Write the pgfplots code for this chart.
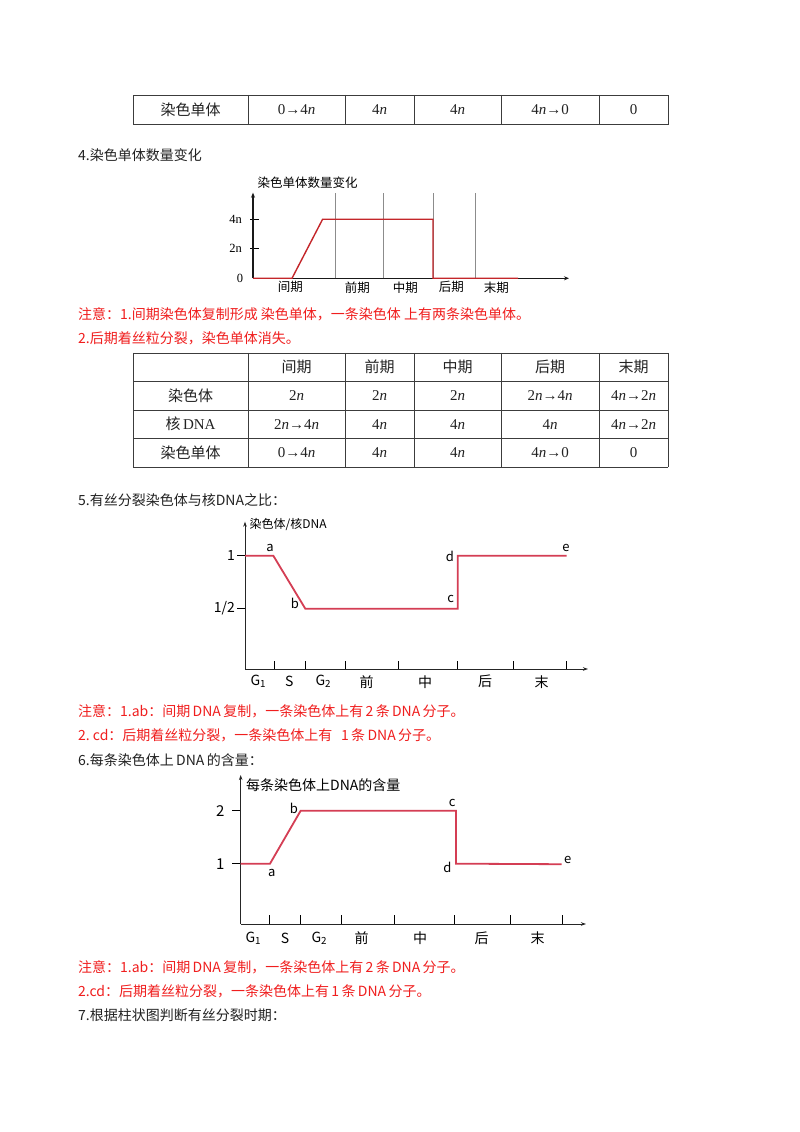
\documentclass[border=0pt]{standalone}
\usepackage{fontspec}
\setmainfont{Liberation Serif}
\newfontfamily\cjk{Noto Sans CJK SC}
\usepackage{pgfplots}
\pgfplotsset{compat=1.18}
\usetikzlibrary{arrows.meta}
\definecolor{redA}{RGB}{196,38,42}
\definecolor{redB}{RGB}{212,62,84}
\definecolor{noteRed}{RGB}{240,30,30}
\definecolor{tblGray}{RGB}{60,60,60}
\definecolor{txt}{RGB}{34,34,34}
\newcommand\n{\textit{n}}
\newcommand\bodyfont{\cjk\fontsize{14}{16}\selectfont}
\newcommand\tblfont{\fontsize{15}{18}\selectfont}
\newcommand\tcj{\cjk\fontsize{15}{18}\selectfont}
\begin{document}
\begin{tikzpicture}[x=1pt,y=1pt]
\fill[white] (0,0) rectangle (800,1132);

% ---------- Table 1 ----------
\draw[tblGray, line width=0.9pt] (133,1037) rectangle (668,1008);
\foreach \x in {248,345,414,501,599}{\draw[tblGray, line width=0.9pt] (\x,1037) -- (\x,1008);}
\node[font=\tcj, text=txt] at (190.5,1022.5) {染色单体};
\node[font=\tblfont, text=txt] at (296.5,1022.5) {0→4\n};
\node[font=\tblfont, text=txt] at (379.5,1022.5) {4\n};
\node[font=\tblfont, text=txt] at (457.5,1022.5) {4\n};
\node[font=\tblfont, text=txt] at (550,1022.5) {4\n→0};
\node[font=\tblfont, text=txt] at (633.5,1022.5) {0};

% ---------- text ----------
\node[anchor=west, inner sep=0pt, font=\bodyfont, text=txt] at (78,977) {4.染色单体数量变化};
\node[anchor=west, inner sep=0pt, font=\bodyfont, text=noteRed] at (78,818) {注意：1.间期染色体复制形成\ 染色单体，一条染色体\ 上有两条染色单体。};
\node[anchor=west, inner sep=0pt, font=\bodyfont, text=noteRed] at (78,794) {2.后期着丝粒分裂，染色单体消失。};

% ---------- Table 2 ----------
\foreach \y in {779,750.5,722,693.5,665}{\draw[tblGray, line width=0.9pt] (133,\y) -- (668,\y);}
\foreach \x in {133,248,345,414,501,599,668}{\draw[tblGray, line width=0.9pt] (\x,779) -- (\x,665);}
\node[font=\tcj, text=txt] at (296.5,764.75) {间期};
\node[font=\tcj, text=txt] at (379.5,764.75) {前期};
\node[font=\tcj, text=txt] at (457.5,764.75) {中期};
\node[font=\tcj, text=txt] at (550,764.75) {后期};
\node[font=\tcj, text=txt] at (633.5,764.75) {末期};
\node[font=\tcj, text=txt] at (190.5,736.25) {染色体};
\node[font=\tblfont, text=txt] at (296.5,736.25) {2\n};
\node[font=\tblfont, text=txt] at (379.5,736.25) {2\n};
\node[font=\tblfont, text=txt] at (457.5,736.25) {2\n};
\node[font=\tblfont, text=txt] at (550,736.25) {2\n→4\n};
\node[font=\tblfont, text=txt] at (633.5,736.25) {4\n→2\n};
\node[font=\tblfont, text=txt] at (190.5,707.75) {{\tcj 核}\,DNA};
\node[font=\tblfont, text=txt] at (296.5,707.75) {2\n→4\n};
\node[font=\tblfont, text=txt] at (379.5,707.75) {4\n};
\node[font=\tblfont, text=txt] at (457.5,707.75) {4\n};
\node[font=\tblfont, text=txt] at (550,707.75) {4\n};
\node[font=\tblfont, text=txt] at (633.5,707.75) {4\n→2\n};
\node[font=\tcj, text=txt] at (190.5,679.25) {染色单体};
\node[font=\tblfont, text=txt] at (296.5,679.25) {0→4\n};
\node[font=\tblfont, text=txt] at (379.5,679.25) {4\n};
\node[font=\tblfont, text=txt] at (457.5,679.25) {4\n};
\node[font=\tblfont, text=txt] at (550,679.25) {4\n→0};
\node[font=\tblfont, text=txt] at (633.5,679.25) {0};

% ---------- text ----------
\node[anchor=west, inner sep=0pt, font=\bodyfont, text=txt] at (78,632) {5.有丝分裂染色体与核DNA之比：};
\node[anchor=west, inner sep=0pt, font=\bodyfont, text=noteRed] at (78,421) {注意：1.ab：间期\,DNA\,复制，一条染色体上有\,2\,条\,DNA\,分子。};
\node[anchor=west, inner sep=0pt, font=\bodyfont, text=noteRed] at (78,397) {2.\ cd：后期着丝粒分裂，一条染色体上有\ \ \,1\,条\,DNA\,分子。};
\node[anchor=west, inner sep=0pt, font=\bodyfont, text=txt] at (78,372) {6.每条染色体上\,DNA\,的含量：};
\node[anchor=west, inner sep=0pt, font=\bodyfont, text=noteRed] at (78,165) {注意：1.ab：间期\,DNA\,复制，一条染色体上有\,2\,条\,DNA\,分子。};
\node[anchor=west, inner sep=0pt, font=\bodyfont, text=noteRed] at (78,141) {2.cd：后期着丝粒分裂，一条染色体上有\,1\,条\,DNA\,分子。};
\node[anchor=west, inner sep=0pt, font=\bodyfont, text=txt] at (78,117) {7.根据柱状图判断有丝分裂时期：};

% ---------- Chart 1 ----------
\begin{axis}[
 at={(253pt,853.7pt)}, anchor=south west,
 scale only axis, width=316pt, height=85.6pt,
 xmin=0, xmax=316, ymin=0, ymax=5.8,
 axis lines=left, enlargelimits=false, clip=false,
 axis line style={line width=1.3pt, black!90},
 x axis line style={-{Stealth[length=5pt,width=4pt]}},
 y axis line style={-{Stealth[length=5pt,width=4pt]}},
 xtick=\empty,
 ytick={2,4}, yticklabels={2n,4n},
 extra y ticks={0}, extra y tick labels={0},
 extra y tick style={major tick length=0pt},
 tick align=center, major tick length=9pt,
 ytick style={black, line width=1.4pt, xshift=1.5pt},
 yticklabel style={font=\fontsize{12.5}{14}\selectfont, anchor=center, xshift=-13pt},
]
\addplot[gray!90, line width=0.8pt] coordinates {(82.3,0) (82.3,5.8)};
\addplot[gray!90, line width=0.8pt] coordinates {(130,0) (130,5.8)};
\addplot[gray!90, line width=0.8pt] coordinates {(180,0) (180,5.8)};
\addplot[gray!90, line width=0.8pt] coordinates {(222.6,0) (222.6,5.8)};
\addplot[redA, line width=1.4pt] coordinates {(0,0) (39,0) (69.6,4) (180,4) (180,0) (265,0)};
\node[font=\cjk\fontsize{12.5}{14}\selectfont, yshift=-9pt] at (axis cs:37.3,0) {间期};
\node[font=\cjk\fontsize{12.5}{14}\selectfont, yshift=-9pt] at (axis cs:104.3,0) {前期};
\node[font=\cjk\fontsize{12.5}{14}\selectfont, yshift=-9pt] at (axis cs:152.3,0) {中期};
\node[font=\cjk\fontsize{12.5}{14}\selectfont, yshift=-9pt] at (axis cs:198.3,0) {后期};
\node[font=\cjk\fontsize{12.5}{14}\selectfont, yshift=-9pt] at (axis cs:243.3,0) {末期};
\node[font=\cjk\fontsize{12.5}{14}\selectfont, anchor=west, inner sep=0pt, yshift=9.7pt] at (axis cs:4.3,5.8) {染色单体数量变化};
\end{axis}

% ---------- Chart 2 ----------
\begin{axis}[
 at={(245pt,463pt)}, anchor=south west,
 scale only axis, width=343pt, height=147.3pt,
 xmin=0, xmax=343, ymin=-0.069, ymax=1.3207,
 axis lines=left, enlargelimits=false, clip=false,
 axis line style={line width=0.9pt, black!85},
 x axis line style={-{Stealth[length=5pt,width=3.5pt]}},
 y axis line style={-{Stealth[length=5pt,width=3.5pt]}},
 xtick={29,60.3,100,153.3,212.7,268.3,321.7}, xticklabels=\empty,
 ytick={0.5,1}, yticklabels={1/2,1},
 tick align=inside, major tick length=8pt,
 tick style={black, line width=0.8pt},
 major y tick style={xshift=-8pt},
 yticklabel style={font=\cjk\fontsize{14}{16}\selectfont, anchor=east, inner sep=0pt, xshift=-10pt},
]
\addplot[redB, line width=1.8pt] coordinates {(0,1) (28.3,1) (60.3,0.5) (212.7,0.5) (212.7,1) (321.7,1)};
\node[font=\cjk\fontsize{14}{16}\selectfont, yshift=-12.7pt] at (axis cs:13.3,-0.069) {G\textsubscript{1}};
\node[font=\cjk\fontsize{14}{16}\selectfont, yshift=-12.7pt] at (axis cs:44.3,-0.069) {S};
\node[font=\cjk\fontsize{14}{16}\selectfont, yshift=-12.7pt] at (axis cs:78.3,-0.069) {G\textsubscript{2}};
\node[font=\cjk\fontsize{14}{16}\selectfont, yshift=-12.7pt] at (axis cs:121.7,-0.069) {前};
\node[font=\cjk\fontsize{14}{16}\selectfont, yshift=-12.7pt] at (axis cs:180,-0.069) {中};
\node[font=\cjk\fontsize{14}{16}\selectfont, yshift=-12.7pt] at (axis cs:240,-0.069) {后};
\node[font=\cjk\fontsize{14}{16}\selectfont, yshift=-12.7pt] at (axis cs:296.7,-0.069) {末};
\node[font=\cjk\fontsize{13}{15}\selectfont, xshift=-3.3pt, yshift=7.4pt] at (axis cs:28.3,1) {a};
\node[font=\cjk\fontsize{13}{15}\selectfont, xshift=-10.3pt, yshift=5.4pt] at (axis cs:60.3,0.5) {b};
\node[font=\cjk\fontsize{13}{15}\selectfont, xshift=-7pt, yshift=9.4pt] at (axis cs:212.7,0.5) {c};
\node[font=\cjk\fontsize{13}{15}\selectfont, xshift=-7.7pt, yshift=-1pt] at (axis cs:212.7,1) {d};
\node[font=\cjk\fontsize{13}{15}\selectfont, xshift=-0.7pt, yshift=7.4pt] at (axis cs:321.7,1) {e};
\node[font=\cjk\fontsize{12}{14}\selectfont, anchor=west, inner sep=0pt, xshift=4.5pt, yshift=-3.3pt] at (axis cs:0,1.3207) {染色体/核DNA};
\end{axis}

% ---------- Chart 3 ----------
\begin{axis}[
 at={(240.7pt,208pt)}, anchor=south west,
 scale only axis, width=345.3pt, height=149pt,
 xmin=0, xmax=345.3, ymin=-0.1377, ymax=2.673,
 axis lines=left, enlargelimits=false, clip=false,
 axis line style={line width=0.9pt, black!85},
 x axis line style={-{Stealth[length=5pt,width=3.5pt]}},
 y axis line style={-{Stealth[length=5pt,width=3.5pt]}},
 xtick={28.6,60,101,153.3,213.6,269.3,322}, xticklabels=\empty,
 ytick={1,2}, yticklabels={1,2},
 tick align=inside, major tick length=8.5pt,
 tick style={black, line width=0.8pt},
 major y tick style={xshift=-8.5pt},
 yticklabel style={font=\cjk\fontsize{15}{17}\selectfont, anchor=east, inner sep=0pt, xshift=-16pt},
]
\addplot[redB, line width=1.8pt] coordinates {(0,1) (29.3,1) (60,2) (215.3,2) (215.3,1) (321,0.99)};
\node[font=\cjk\fontsize{14}{16}\selectfont, yshift=-14pt] at (axis cs:12.6,-0.1377) {G\textsubscript{1}};
\node[font=\cjk\fontsize{14}{16}\selectfont, yshift=-14pt] at (axis cs:44.3,-0.1377) {S};
\node[font=\cjk\fontsize{14}{16}\selectfont, yshift=-14pt] at (axis cs:78.6,-0.1377) {G\textsubscript{2}};
\node[font=\cjk\fontsize{14}{16}\selectfont, yshift=-14pt] at (axis cs:121,-0.1377) {前};
\node[font=\cjk\fontsize{14}{16}\selectfont, yshift=-14pt] at (axis cs:179.3,-0.1377) {中};
\node[font=\cjk\fontsize{14}{16}\selectfont, yshift=-14pt] at (axis cs:241,-0.1377) {后};
\node[font=\cjk\fontsize{14}{16}\selectfont, yshift=-14pt] at (axis cs:297,-0.1377) {末};
\node[font=\cjk\fontsize{13}{15}\selectfont, xshift=1.7pt, yshift=-9.6pt] at (axis cs:29.3,1) {a};
\node[font=\cjk\fontsize{13}{15}\selectfont, xshift=-6.7pt, yshift=2.4pt] at (axis cs:60,2) {b};
\node[font=\cjk\fontsize{13}{15}\selectfont, xshift=-3.7pt, yshift=8pt] at (axis cs:215.3,2) {c};
\node[font=\cjk\fontsize{13}{15}\selectfont, xshift=-8.7pt, yshift=-3.6pt] at (axis cs:215.3,1) {d};
\node[font=\cjk\fontsize{13}{15}\selectfont, xshift=6pt, yshift=4.4pt] at (axis cs:321,0.99) {e};
\node[font=\cjk\fontsize{14}{16}\selectfont, anchor=west, inner sep=0pt, xshift=5.3pt, yshift=-10pt] at (axis cs:0,2.673) {每条染色体上DNA的含量};
\end{axis}
\end{tikzpicture}
\end{document}
